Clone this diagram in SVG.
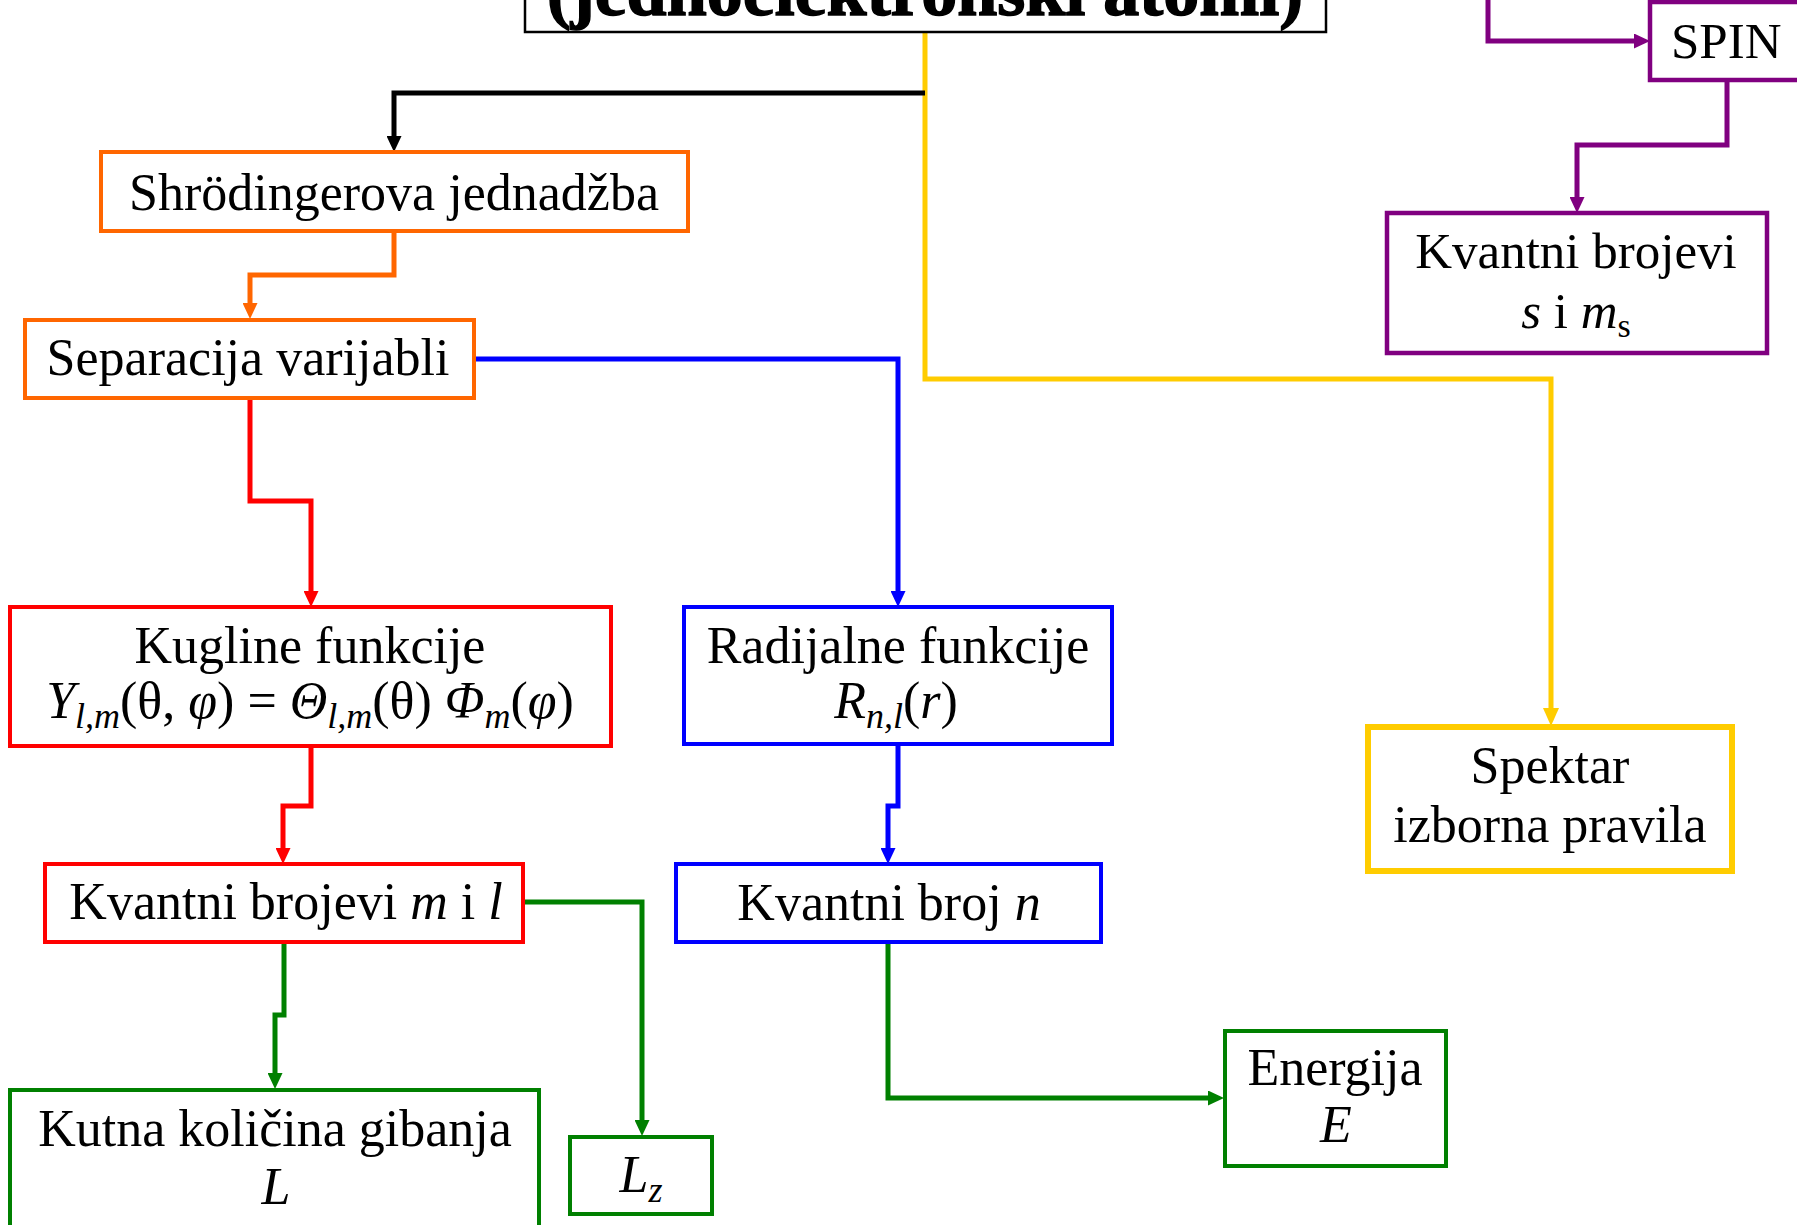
<svg xmlns="http://www.w3.org/2000/svg" width="1797" height="1225" viewBox="0 0 1797 1225">
<style>
.t{font-family:"Liberation Serif","Times New Roman",serif;font-size:52px;fill:#000;text-anchor:middle}
.i{font-style:italic}
.box{fill:#fff}
.c{fill:none;stroke-width:5}
</style>
<defs>
<marker id="aK" markerUnits="userSpaceOnUse" markerWidth="16" markerHeight="15" refX="2" refY="7.5" orient="auto"><path d="M0,0 L16,7.5 L0,15 z" fill="#000"/></marker>
<marker id="aO" markerUnits="userSpaceOnUse" markerWidth="16" markerHeight="15" refX="2" refY="7.5" orient="auto"><path d="M0,0 L16,7.5 L0,15 z" fill="#FF6600"/></marker>
<marker id="aR" markerUnits="userSpaceOnUse" markerWidth="16" markerHeight="15" refX="2" refY="7.5" orient="auto"><path d="M0,0 L16,7.5 L0,15 z" fill="#FF0000"/></marker>
<marker id="aB" markerUnits="userSpaceOnUse" markerWidth="16" markerHeight="15" refX="2" refY="7.5" orient="auto"><path d="M0,0 L16,7.5 L0,15 z" fill="#0000FF"/></marker>
<marker id="aG" markerUnits="userSpaceOnUse" markerWidth="16" markerHeight="15" refX="2" refY="7.5" orient="auto"><path d="M0,0 L16,7.5 L0,15 z" fill="#008000"/></marker>
<marker id="aP" markerUnits="userSpaceOnUse" markerWidth="16" markerHeight="15" refX="2" refY="7.5" orient="auto"><path d="M0,0 L16,7.5 L0,15 z" fill="#800080"/></marker>
<marker id="aY" markerUnits="userSpaceOnUse" markerWidth="18" markerHeight="16" refX="2" refY="8" orient="auto"><path d="M0,0 L18,8 L0,16 z" fill="#FFCC00"/></marker>
</defs>
<rect width="1797" height="1225" fill="#fff"/>

<g id="connectors">
<path class="c" stroke="#FFCC00" stroke-width="6" d="M925 32 V379 H1551 V710" marker-end="url(#aY)"/>
<path class="c" stroke="#000" d="M925 93 H394 V138" marker-end="url(#aK)"/>
<path class="c" stroke="#FF6600" d="M394 231 V275 H250 V305" marker-end="url(#aO)"/>
<path class="c" stroke="#0000FF" d="M474 359 H898 V593" marker-end="url(#aB)"/>
<path class="c" stroke="#FF0000" d="M250 398 V501 H311 V593" marker-end="url(#aR)"/>
<path class="c" stroke="#FF0000" d="M311 746 V806 H283 V850" marker-end="url(#aR)"/>
<path class="c" stroke="#0000FF" d="M898 744 V806 H888 V850" marker-end="url(#aB)"/>
<path class="c" stroke="#008000" d="M523 902 H642 V1122" marker-end="url(#aG)"/>
<path class="c" stroke="#008000" d="M284 942 V1015 H275 V1075" marker-end="url(#aG)"/>
<path class="c" stroke="#008000" d="M888 942 V1098 H1210" marker-end="url(#aG)"/>
<path class="c" stroke="#800080" d="M1488 0 V41 H1636" marker-end="url(#aP)"/>
<path class="c" stroke="#800080" d="M1727 80 V145 H1577 V199" marker-end="url(#aP)"/>
</g>

<g id="title">
<rect class="box" x="525" y="-60" width="801" height="92" stroke="#000" stroke-width="2.5"/>
<text class="t" x="925" y="15" style="font-size:72px;font-weight:bold" stroke="#000" stroke-width="1.5">(jednoelektronski atomi)</text>
</g>

<g id="spin">
<rect class="box" x="1650" y="2" width="170" height="78" stroke="#800080" stroke-width="4.5"/>
<text class="t" x="1671" y="58" style="font-size:51px;text-anchor:start">SPIN</text>
</g>

<g id="spin-kvantni">
<rect class="box" x="1387" y="213" width="380" height="140" stroke="#800080" stroke-width="4.5"/>
<text class="t" x="1576" y="268" style="font-size:51px">Kvantni brojevi</text>
<text class="t" x="1576" y="328" style="font-size:51px"><tspan class="i">s</tspan> i <tspan class="i">m</tspan><tspan font-size="34" dy="9">s</tspan></text>
</g>

<g id="schrodinger">
<rect class="box" x="101" y="152" width="587" height="79" stroke="#FF6600" stroke-width="4"/>
<text class="t" x="394" y="210">Shrödingerova jednadžba</text>
</g>

<g id="separacija">
<rect class="box" x="25" y="320" width="449" height="78" stroke="#FF6600" stroke-width="4"/>
<text class="t" x="248" y="375">Separacija varijabli</text>
</g>

<g id="kugline">
<rect class="box" x="10" y="607" width="601" height="139" stroke="#FF0000" stroke-width="4"/>
<text class="t" x="310" y="663">Kugline funkcije</text>
<text class="t" x="310" y="718"><tspan class="i">Y</tspan><tspan class="i" font-size="36" dy="10">l,m</tspan><tspan dy="-10">(θ, </tspan><tspan class="i">φ</tspan>) = <tspan class="i">Θ</tspan><tspan class="i" font-size="36" dy="10">l,m</tspan><tspan dy="-10">(θ) </tspan><tspan class="i">Φ</tspan><tspan class="i" font-size="36" dy="10">m</tspan><tspan dy="-10">(</tspan><tspan class="i">φ</tspan>)</text>
</g>

<g id="radijalne">
<rect class="box" x="684" y="607" width="428" height="137" stroke="#0000FF" stroke-width="4"/>
<text class="t" x="898" y="663">Radijalne funkcije</text>
<text class="t" x="896" y="718"><tspan class="i">R</tspan><tspan class="i" font-size="36" dy="10">n,l</tspan><tspan dy="-10">(</tspan><tspan class="i">r</tspan>)</text>
</g>

<g id="kvantni-ml">
<rect class="box" x="45" y="864" width="478" height="78" stroke="#FF0000" stroke-width="4"/>
<text class="t" x="286" y="919">Kvantni brojevi <tspan class="i">m</tspan> i <tspan class="i">l</tspan></text>
</g>

<g id="kvantni-n">
<rect class="box" x="676" y="864" width="425" height="78" stroke="#0000FF" stroke-width="4"/>
<text class="t" x="889" y="920">Kvantni broj <tspan class="i">n</tspan></text>
</g>

<g id="kutna">
<rect class="box" x="10" y="1090" width="529" height="160" stroke="#008000" stroke-width="4"/>
<text class="t" x="275" y="1146">Kutna količina gibanja</text>
<text class="t i" x="276" y="1204">L</text>
</g>

<g id="lz">
<rect class="box" x="570" y="1137" width="142" height="77" stroke="#008000" stroke-width="4"/>
<text class="t" x="641" y="1192"><tspan class="i">L</tspan><tspan class="i" font-size="36" dy="10">z</tspan></text>
</g>

<g id="energija">
<rect class="box" x="1225" y="1031" width="221" height="135" stroke="#008000" stroke-width="4"/>
<text class="t" x="1335" y="1085">Energija</text>
<text class="t i" x="1336" y="1142">E</text>
</g>

<g id="spektar">
<rect class="box" x="1368" y="727" width="364" height="144" stroke="#FFCC00" stroke-width="6"/>
<text class="t" x="1550" y="783">Spektar</text>
<text class="t" x="1550" y="842">izborna pravila</text>
</g>
</svg>
